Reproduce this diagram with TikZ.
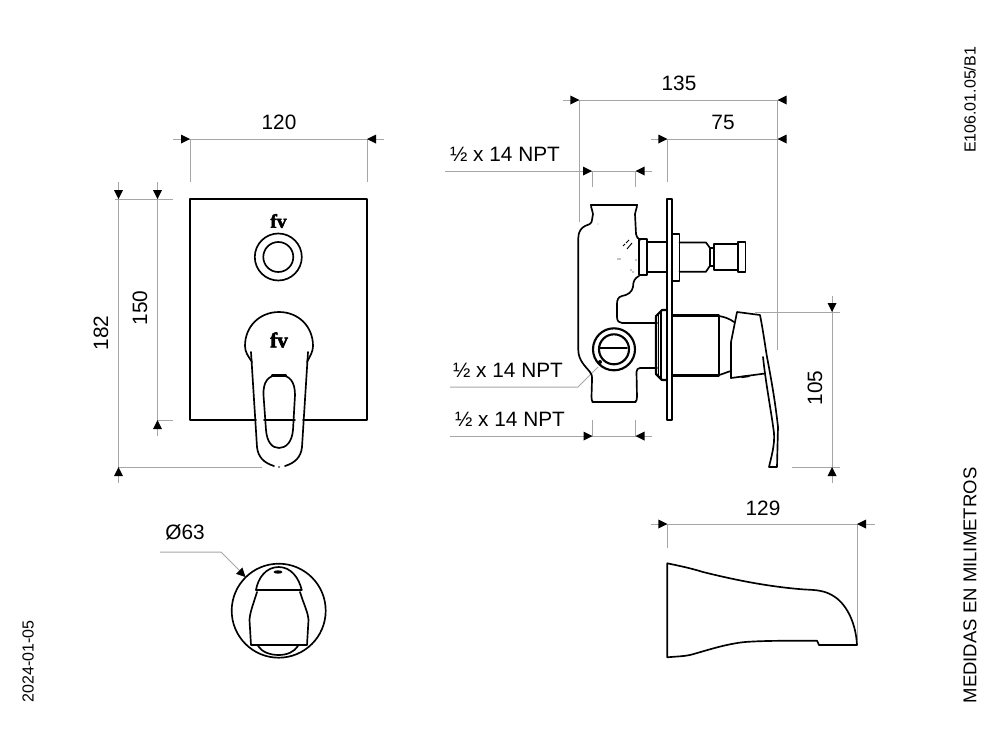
\documentclass[tikz,border=0pt]{standalone}
\usepackage{fontspec}
\setmainfont{Liberation Sans}
\newfontfamily\logofont[FakeBold=2.5]{Liberation Serif}
\tikzset{
  obj/.style={line width=1.25pt,black,line join=round,line cap=round},
  objthick/.style={line width=1.6pt,black,line join=round,line cap=round},
  dimline/.style={line width=0.75pt,black!35},
  lbl/.style={font=\fontsize{15.6}{18}\selectfont,inner sep=0pt,black},
  small/.style={font=\fontsize{12}{14}\selectfont,inner sep=0pt,black},
  logo/.style={font=\logofont\bfseries\fontsize{14.5}{15}\selectfont,inner sep=0pt},
  logobig/.style={font=\logofont\bfseries\fontsize{16}{16}\selectfont,inner sep=0pt},
  dimtip/.pic={\fill[black] (0,0)--(-9,-4.5)--(-9,4.5)--cycle;},
}
\begin{document}
\begin{tikzpicture}[x=0.75pt,y=-0.75pt]
\useasboundingbox (0,0) rectangle (1000,750);

% ---------- dimension lines: front view
\draw[dimline] (173,139)--(384,139) (190,139)--(190,182) (367,139)--(367,182);
\pic[rotate=0] at (190,139) {dimtip};
\pic[rotate=180] at (367,139) {dimtip};
\draw[dimline] (118.5,182)--(118.5,483) (157.5,182)--(157.5,436);
\draw[dimline] (115,199)--(173,199) (157,420)--(173,420) (118,467)--(262,467);
\pic[rotate=-90] at (118.5,199) {dimtip};
\pic[rotate=-90] at (157.5,199) {dimtip};
\pic[rotate=90] at (157.5,420) {dimtip};
\pic[rotate=90] at (118.5,467) {dimtip};
\node[lbl] (t120) at (279,122) {120};
\node[lbl,rotate=90] (t150) at (140,308) {150};
\node[lbl,rotate=90] (t182) at (101,333) {182};

% ---------- front view
\draw[obj] (256,420)--(190,420)--(190,199)--(367,199)--(367,420)--(303,420);
\draw[obj] (264,420)--(295,420);
\draw[obj] (278.3,257) circle[radius=23.5];
\draw[obj] (278.3,257) circle[radius=15];
\node[logo] (logoA) at (278.5,221) {fv};
\draw[obj] (252,362) .. controls (248,356) and (245,352) .. (245,346)
  .. controls (245,326) and (260,312) .. (279,312)
  .. controls (298,312) and (313,326) .. (313,346)
  .. controls (313,352) and (310,356) .. (307,362);
\draw[obj] (251,352)--(257,447) .. controls (258,457) and (264,463) .. (274,466);
\draw[obj] (308,352)--(302,447) .. controls (301,457) and (295,463) .. (285,466);
\fill (279,467) circle[radius=0.8];
\draw[obj] (266,430) -- (263.5,395) .. controls (263,382) and (268,375) .. (279,375)
  .. controls (290,375) and (295,382) .. (295,395) -- (293,430)
  .. controls (292,442) and (286,448) .. (279,448)
  .. controls (272,448) and (267,442) .. (266,430) -- cycle;
\draw[objthick] (272,375.5)--(286,375.5);
\node[logobig] (logoB) at (279,340) {fv};

% ---------- dimension lines: side view
\draw[dimline] (563,100)--(787,100) (579.3,100)--(579.3,222) (777.5,100)--(777.5,350);
\pic[rotate=0] at (579.3,100) {dimtip};
\pic[rotate=180] at (777.5,100) {dimtip};
\draw[dimline] (651,139)--(787,139) (667.3,139)--(667.3,182);
\pic[rotate=0] at (667.3,139) {dimtip};
\pic[rotate=180] at (777.5,139) {dimtip};
\draw[dimline] (445,171)--(652,171) (592,171)--(592,187) (635.5,171)--(635.5,187);
\pic[rotate=0] at (592,171) {dimtip};
\pic[rotate=180] at (635.5,171) {dimtip};
\draw[dimline] (450,436)--(652,436) (592.5,420)--(592.5,436) (635.5,420)--(635.5,436);
\pic[rotate=0] at (592.5,436) {dimtip};
\pic[rotate=180] at (635.5,436) {dimtip};
\draw[dimline] (450,387)--(578,387)--(598,367);
\draw[dimline] (755,312)--(840,312) (792,467)--(840,467) (832,296)--(832,483);
\pic[rotate=-90] at (832,312) {dimtip};
\pic[rotate=90] at (832,467) {dimtip};
\node[lbl] (t135) at (679,83) {135};
\node[lbl] (t75) at (723,122) {75};
\node[lbl] (npt1) at (505,154) {½ x 14 NPT};
\node[lbl] (npt2) at (508,370) {½ x 14 NPT};
\node[lbl] (npt3) at (510,419) {½ x 14 NPT};
\node[lbl,rotate=90] (t105) at (815,388) {105};

% ---------- side view: body
\draw[obj] (637,205) .. controls (637,209) and (635,211) .. (635,214)
  -- (636,234) .. controls (636,237) and (638,238) .. (640,240);
\draw[obj] (639,276) .. controls (635,278) and (633,281) .. (633,287)
  .. controls (632,292) and (628,295) .. (622,296)
  .. controls (618,297) and (617,300) .. (617,304)
  -- (617,317) .. controls (617,321) and (619,323) .. (622,323) -- (657,323);
\draw[obj] (591,205) .. controls (591,209) and (593,211) .. (593,214)
  -- (592,220) .. controls (592,224) and (588,225) .. (585,226)
  .. controls (581,228) and (578.3,232) .. (578.3,238)
  -- (578.3,350) .. controls (578.3,360) and (585,366) .. (590,372)
  .. controls (592,374) and (592,376) .. (592,380)
  -- (591.5,397) .. controls (591.5,400) and (592,401) .. (593,402);
\draw[objthick] (591,204.7)--(637,204.7);
\draw[objthick] (592.5,402)--(635.5,402);
\draw[obj] (635,402) .. controls (636.5,401) and (637,400) .. (637,397)
  -- (636.5,372) .. controls (636.5,369.5) and (638,368) .. (640,368) -- (657,368);
\draw[line width=0.7pt] (623,246)--(625,244) (626,243)--(629,240) (627,249)--(632,243);
\fill (618,259) circle[radius=0.6] (620,259) circle[radius=0.6] (636,260) circle[radius=0.6]
  (631,270) circle[radius=0.7] (633,272) circle[radius=0.7] (598,224) circle[radius=0.4];
% collar and tube
\draw[objthick] (639,239) rectangle (647,275);
\draw[obj] (647,242)--(667,242) (647,272)--(667,272);
% plate
\draw[obj,fill=white] (667.3,199) rectangle (672.3,420);
\draw[objthick] (667.3,298)--(667.3,392);
\draw[obj,fill=white] (672.3,234) rectangle (679.5,281);
% stem
\draw[obj] (679.5,242.5)--(706,242.5)--(710,248)--(710,265.7)--(706,271.7)--(679.5,271.7);
\draw[obj] (710,248)--(714,248) (710,265.7)--(714,265.7);
\draw[obj] (714,244) rectangle (738,270);
\draw[obj] (738,242.3) rectangle (745.5,272);
% flange
\draw[objthick] (667,310)--(662,310)--(656,316)--(656,374)--(662,380)--(667,380);
\draw[obj] (661,311)--(661,379) (658.5,315)--(658.5,375);
% cylinder
\draw[objthick] (672,315.5)--(719,315.5)--(719,375.5)--(672,375.5);
\draw[obj] (719,316) .. controls (725,317) and (730,319) .. (734,322);
\draw[obj] (719,375) .. controls (723,374) and (727,372) .. (731,371);
% lever
\draw[obj] (731,378)--(731,342)--(737,312)--(760,315)
  .. controls (763,330) and (765,345) .. (767,357)
  .. controls (771,378) and (775,400) .. (778,427)
  -- (777,467)--(769,467)
  .. controls (771,458) and (775,445) .. (774,433)
  .. controls (771,410) and (766,385) .. (763,357);
\draw[obj] (731,378)--(765,373.5);
\draw[objthick] (742,377)--(749,376);
% round port
\draw[objthick] (614,349.3) circle[radius=21];
\draw[objthick] (614,349.3) circle[radius=15];
\draw[obj] (600,347.7)--(627,347.7);
\fill (600,362) circle[radius=2];

% ---------- bottom left
\node[lbl] (t63) at (185,532) {Ø63};
\draw[dimline] (160,552)--(221,552)--(240,571);
\pic[rotate=-45] at (245.5,577) {dimtip};
\draw[obj] (278.7,610.7) circle[radius=47];
\draw[obj] (256,590) .. controls (258,578) and (266,567) .. (278.7,567)
  .. controls (291,567) and (299,578) .. (301.7,590);
\draw[obj] (256,590.3)--(301.7,590.3);
\draw[obj] (257,592) .. controls (253,605) and (250,612) .. (249.5,620)
  -- (251,645)--(307,645)--(308.5,620)
  .. controls (308,612) and (304,605) .. (300,592);
\draw[obj] (258,646) .. controls (262,652) and (270,655) .. (278.7,655)
  .. controls (287,655) and (294,652) .. (298,646);
\fill (278,572) ellipse[x radius=4.5,y radius=1.7];

% ---------- spout
\draw[dimline] (651,524)--(875,524) (667.3,524)--(667.3,548) (857,524)--(857,640);
\pic[rotate=0] at (667.3,524) {dimtip};
\pic[rotate=180] at (857,524) {dimtip};
\node[lbl] (t129) at (763,508) {129};
\draw[obj] (667.3,563.3)--(667.3,657.3)
  .. controls (675,656.5) and (683,656.5) .. (690,655)
  .. controls (705,651) and (725,644) .. (745,642)
  .. controls (765,640.5) and (795,640.7) .. (817,640.7)
  -- (819,645)--(857,645)
  .. controls (856,625) and (848,606) .. (835,597)
  .. controls (825,590) and (815,590) .. (805,589.5)
  .. controls (770,587) and (735,580) .. (703,572)
  .. controls (690,568) and (680,566) .. (667.3,563.3) -- cycle;

% ---------- margin texts
\node[small,rotate=90] (code) at (970,100) {E106.01.05/B1};
\node[small,rotate=90,font=\fontsize{13.9}{16}\selectfont] (med) at (970,585.5) {MEDIDAS EN MILIMETROS};
\node[small,rotate=90] (date) at (28,661.5) {2024-01-05};
\end{tikzpicture}
\end{document}
